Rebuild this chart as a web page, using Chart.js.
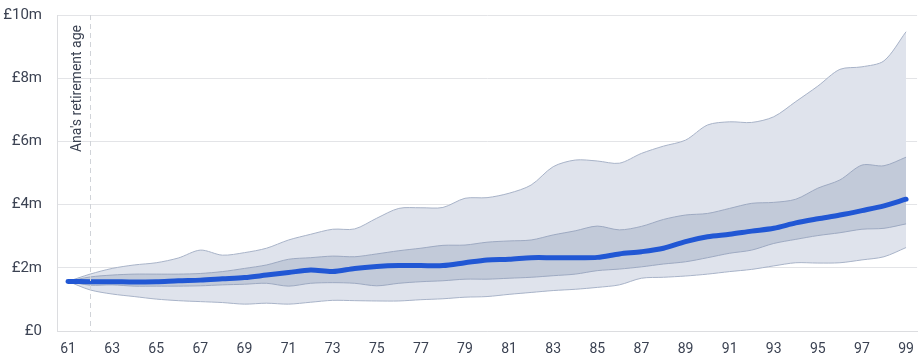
<!DOCTYPE html>
<html>
<head>
<meta charset="utf-8">
<script src="https://cdn.jsdelivr.net/npm/chart.js@4"></script>
<style>
  html, body { margin: 0; padding: 0; background: #ffffff; }
  #wrap { width: 924px; height: 362px; position: relative; }
</style>
</head>
<body>
<div id="wrap"><canvas id="c"></canvas></div>
<script>
// Ages (categories)
const ages = [61,62,63,64,65,66,67,68,69,70,71,72,73,74,75,76,77,78,79,80,81,82,83,84,85,86,87,88,89,90,91,92,93,94,95,96,97,98,99];

// Projected pot values in £m
const outerUpper = [1.57,1.80,1.98,2.09,2.16,2.31,2.56,2.40,2.48,2.62,2.88,3.06,3.22,3.23,3.57,3.88,3.90,3.91,4.20,4.22,4.36,4.62,5.20,5.41,5.38,5.31,5.62,5.85,6.04,6.52,6.62,6.60,6.78,7.26,7.75,8.28,8.36,8.55,9.47];
const innerUpper = [1.57,1.71,1.77,1.80,1.80,1.80,1.82,1.88,1.98,2.09,2.27,2.32,2.37,2.35,2.44,2.54,2.62,2.71,2.72,2.81,2.85,2.88,3.04,3.17,3.32,3.20,3.31,3.53,3.67,3.72,3.88,4.04,4.07,4.17,4.52,4.78,5.25,5.23,5.50];
const median     = [1.57,1.56,1.56,1.55,1.56,1.59,1.61,1.65,1.69,1.77,1.85,1.93,1.88,1.98,2.04,2.07,2.07,2.07,2.16,2.25,2.27,2.32,2.32,2.32,2.33,2.44,2.51,2.62,2.83,2.98,3.06,3.16,3.25,3.42,3.55,3.67,3.81,3.96,4.17];
const innerLower = [1.57,1.45,1.46,1.42,1.42,1.42,1.43,1.46,1.48,1.51,1.42,1.51,1.53,1.51,1.43,1.51,1.56,1.59,1.64,1.64,1.67,1.70,1.75,1.80,1.91,1.96,2.03,2.12,2.19,2.32,2.46,2.56,2.77,2.90,3.02,3.11,3.22,3.25,3.39];
const outerLower = [1.57,1.30,1.17,1.09,1.01,0.96,0.93,0.90,0.85,0.88,0.85,0.91,0.97,0.96,0.95,0.95,0.99,1.02,1.07,1.09,1.16,1.22,1.28,1.32,1.38,1.46,1.67,1.70,1.74,1.80,1.88,1.95,2.06,2.16,2.15,2.16,2.25,2.35,2.64];

// Y-axis tick values (£m)
const yTicks = [0,2,4,6,8,10];
const retirementAge = 62;
const retirementLabel = "Ana's retirement age";

const FONT = "Roboto, 'Liberation Sans', sans-serif";
const TEXT = '#3b4252';

const retirementPlugin = {
  id: 'retirement',
  afterDatasetsDraw(chart) {
    const { ctx, chartArea, scales } = chart;
    const x = Math.round(scales.x.getPixelForValue(ages.indexOf(retirementAge))) + 0.5;
    ctx.save();
    ctx.strokeStyle = '#d0d3d8';
    ctx.lineWidth = 1;
    ctx.setLineDash([5, 4]);
    ctx.beginPath();
    ctx.moveTo(x, chartArea.top);
    ctx.lineTo(x, chartArea.bottom);
    ctx.stroke();
    ctx.setLineDash([]);
    ctx.translate(x - 13, chartArea.top + 10);
    ctx.rotate(-Math.PI / 2);
    ctx.fillStyle = TEXT;
    ctx.font = '14px ' + FONT;
    ctx.textAlign = 'right';
    ctx.textBaseline = 'middle';
    ctx.fillText(retirementLabel, 0, 0);
    ctx.restore();
  }
};

const bandBorder = '#a8b3c8';

new Chart(document.getElementById('c'), {
  type: 'line',
  data: {
    labels: ages,
    datasets: [
      { label: 'outerLower', data: outerLower, borderColor: bandBorder, borderWidth: 1, pointRadius: 0, tension: 0.3, fill: false, order: 3 },
      { label: 'outerUpper', data: outerUpper, borderColor: bandBorder, borderWidth: 1, pointRadius: 0, tension: 0.3, fill: 0, backgroundColor: '#dfe3ec', order: 3 },
      { label: 'innerLower', data: innerLower, borderColor: '#9eaac2', borderWidth: 1, pointRadius: 0, tension: 0.3, fill: false, order: 2 },
      { label: 'innerUpper', data: innerUpper, borderColor: '#9eaac2', borderWidth: 1, pointRadius: 0, tension: 0.3, fill: 2, backgroundColor: '#c2cad9', order: 2 },
      { label: 'median', data: median, borderColor: '#2157d4', borderWidth: 5, pointRadius: 0, tension: 0.3, fill: false, borderCapStyle: 'round', borderJoinStyle: 'round', order: 1 }
    ]
  },
  options: {
    responsive: true,
    maintainAspectRatio: false,
    animation: false,
    layout: { padding: { top: 15, right: 6, left: 0, bottom: 0 } },
    plugins: { legend: { display: false }, tooltip: { enabled: false } },
    scales: {
      x: {
        offset: true,
        afterFit: (axis) => { axis.height = 31; },
        grid: { display: false, drawTicks: false },
        border: { display: true, color: '#dcdde0' },
        ticks: {
          autoSkip: false, maxRotation: 0, padding: 10,
          color: TEXT, font: { family: FONT, size: 14 },
          callback: function (v, i) { return i % 2 === 0 ? String(ages[i]) : ''; }
        }
      },
      y: {
        min: yTicks[0], max: yTicks[yTicks.length - 1],
        afterFit: (axis) => { axis.width = 57; axis.paddingTop = 0; axis.paddingBottom = 0; },
        afterBuildTicks: (axis) => { axis.ticks = yTicks.map(v => ({ value: v })); },
        grid: { color: '#e3e4e7', drawTicks: false },
        border: { display: true, color: '#dcdde0' },
        ticks: {
          padding: 15, color: TEXT, font: { family: FONT, size: 15 },
          callback: (v) => v === 0 ? '£0' : '£' + v + 'm'
        }
      }
    }
  },
  plugins: [retirementPlugin]
});
</script>
</body>
</html>
